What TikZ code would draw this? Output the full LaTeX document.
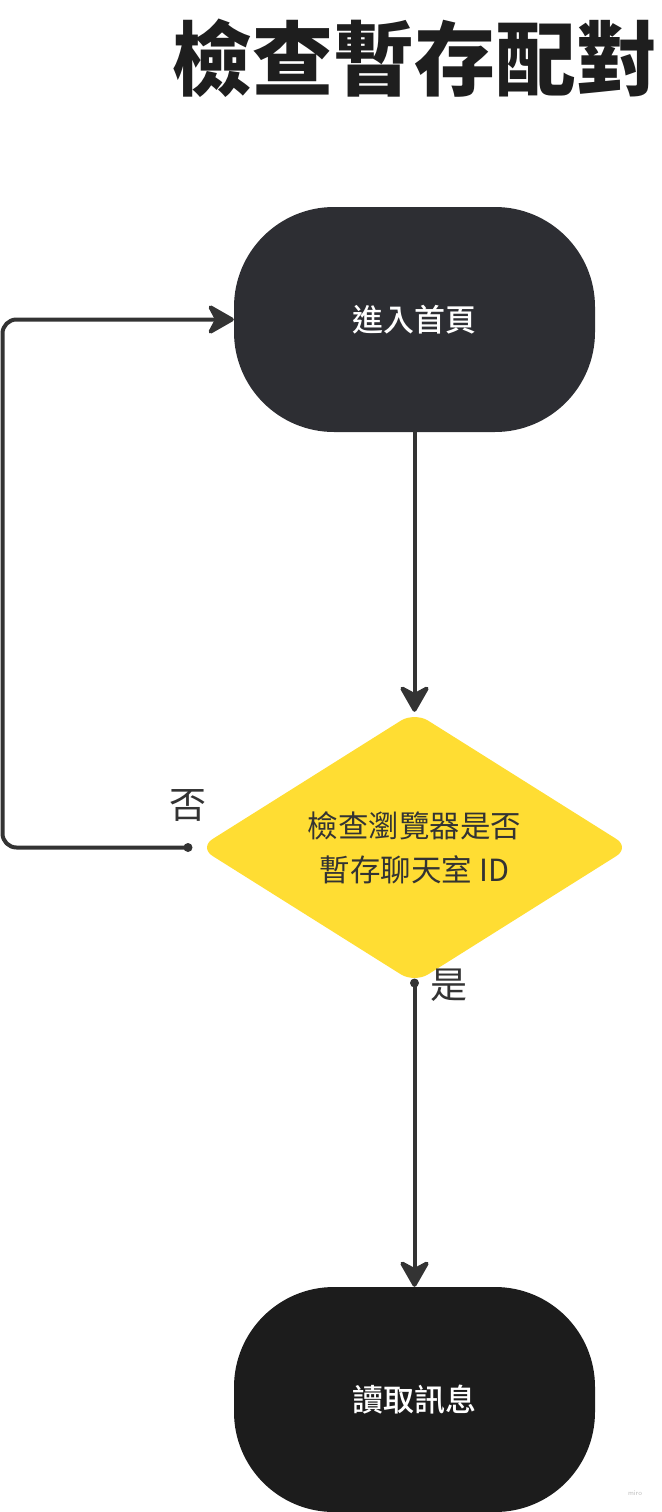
\documentclass[tikz,border=0pt]{standalone}
\usepackage{fontspec}
\setmainfont{Noto Sans CJK TC}
\newfontfamily\cjk{Noto Sans CJK TC}
\newfontfamily\cjkmed{Noto Sans CJK TC Medium}
\usetikzlibrary{arrows.meta,shapes.geometric}
\definecolor{linec}{HTML}{333333}
\definecolor{startc}{HTML}{2D2E33}
\definecolor{endc}{HTML}{1C1C1C}
\definecolor{decc}{HTML}{FFDD33}
\definecolor{titlec}{HTML}{1E1E1E}
\tikzset{
  terminal/.style={rectangle, rounded corners=100pt, minimum width=361pt, minimum height=225pt,
    inner sep=0pt, text=white, font=\cjkmed\fontsize{31pt}{36pt}\selectfont},
  decision/.style={diamond, fill=decc, rounded corners=16pt, aspect=1.59, inner sep=0pt,
    minimum width=431pt, minimum height=271pt, text=linec, align=center,
    font=\cjk\fontsize{30.5pt}{44pt}\selectfont},
  conn/.style={draw=linec, line width=4pt, line cap=round,
    -{Stealth[length=30pt, width=34pt, inset=9pt, round]}},
  lbl/.style={text=linec, inner sep=0pt, font=\cjk\fontsize{37pt}{40pt}\selectfont},
  dotc/.style={fill=linec}
}
\begin{document}
\begin{tikzpicture}[x=1pt, y=-1pt]
\useasboundingbox (0,0) rectangle (661,1512);
\node[inner sep=0pt, text=titlec, font=\cjk\bfseries\fontsize{81pt}{90pt}\selectfont] (title) at (414,58.5) {檢查暫存配對};
\node[terminal, fill=startc] (start) at (414.5,319.5) {進入首頁};
\node[decision] (check) at (414.5,847.5) {檢查瀏覽器是否\\暫存聊天室 ID};
\node[terminal, fill=endc] (read) at (414.5,1399.5) {讀取訊息};
\coordinate (nodot) at (188,847.5);
\coordinate (yesdot) at (414.5,983);
\coordinate (loopc) at (2.5,847.5);
\draw[conn] (start.south) -- (check.north);
\draw[conn, rounded corners=14pt] (nodot) -- (loopc) |- (start.west);
\draw[conn] (yesdot) -- (read.north);
\fill[dotc] (nodot) circle (4.5pt);
\fill[dotc] (yesdot) circle (4.5pt);
\node[lbl] (nolbl) at (188,805) {否};
\node[lbl] (yeslbl) at (449,985) {是};
\node[inner sep=0pt, text=black!25, font=\sffamily\fontsize{7pt}{8pt}\selectfont] (wm) at (635,1493) {miro};
\end{tikzpicture}
\end{document}
